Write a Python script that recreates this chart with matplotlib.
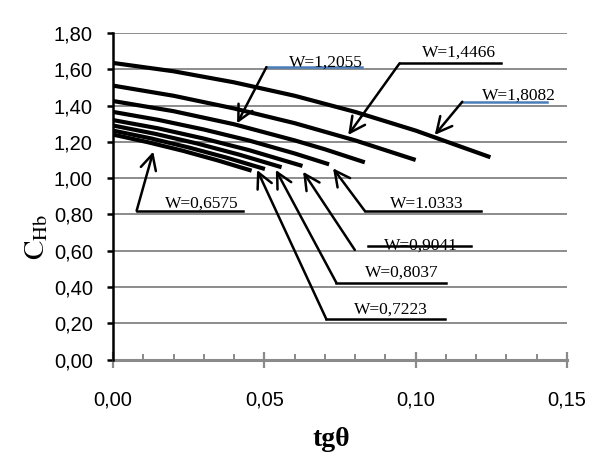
import matplotlib
matplotlib.use("Agg")
import matplotlib.pyplot as plt
from matplotlib.ticker import MultipleLocator, FuncFormatter

# ── data: C_Hb vs tg(theta) for several W ──
W_LABELS = ["W=0,6575", "W=0,7223", "W=0,8037", "W=0,9041",
            "W=1.0333", "W=1,2055", "W=1,4466", "W=1,8082"]

X_0657 = [0.0, 0.0115, 0.023, 0.0345, 0.0458]
Y_0657 = [1.240, 1.198, 1.151, 1.098, 1.041]
X_0722 = [0.0, 0.0125, 0.025, 0.0375, 0.0502]
Y_0722 = [1.262, 1.219, 1.169, 1.113, 1.050]
X_0804 = [0.0, 0.014, 0.028, 0.042, 0.0557]
Y_0804 = [1.290, 1.244, 1.190, 1.128, 1.060]
X_0904 = [0.0, 0.015, 0.030, 0.045, 0.0626]
Y_0904 = [1.320, 1.274, 1.218, 1.154, 1.067]
X_1033 = [0.0, 0.015, 0.030, 0.045, 0.060, 0.0714]
Y_1033 = [1.365, 1.321, 1.268, 1.207, 1.136, 1.076]
X_1206 = [0.0, 0.020, 0.040, 0.060, 0.070, 0.0832]
Y_1206 = [1.425, 1.369, 1.297, 1.208, 1.159, 1.087]
X_1447 = [0.0, 0.020, 0.040, 0.060, 0.080, 0.100]
Y_1447 = [1.510, 1.454, 1.384, 1.303, 1.208, 1.100]
X_1808 = [0.0, 0.020, 0.040, 0.060, 0.080, 0.100, 0.1247]
Y_1808 = [1.635, 1.589, 1.528, 1.454, 1.365, 1.262, 1.115]

CURVES = [(X_0657, Y_0657), (X_0722, Y_0722), (X_0804, Y_0804), (X_0904, Y_0904),
          (X_1033, Y_1033), (X_1206, Y_1206), (X_1447, Y_1447), (X_1808, Y_1808)]

# label placement: text centre x, text baseline y, underline y, underline x0/x1,
# arrow tip (x, y), underline colour, arrow start (x, y)
BLUE = "#4a7ebb"
ANNOT = {
    "W=1,2055": (0.0703, 1.617, 1.612, 0.0507, 0.0822, (0.0410, 1.302), BLUE, 0.0507, 1.612),
    "W=1,4466": (0.1142, 1.668, 1.633, 0.0947, 0.1283, (0.0777, 1.238), "black", 0.0947, 1.633),
    "W=1,8082": (0.1340, 1.430, 1.421, 0.1154, 0.1433, (0.1063, 1.238), BLUE, 0.1154, 1.421),
    "W=1.0333": (0.1038, 0.836, 0.819, 0.0832, 0.1217, (0.0727, 1.054), "black", 0.0832, 0.819),
    "W=0,9041": (0.1016, 0.604, 0.626, 0.0843, 0.1184, (0.0628, 1.035), "black", 0.0799, 0.604),
    "W=0,8037": (0.0953, 0.456, 0.423, 0.0738, 0.1101, (0.0538, 1.045), "black", 0.0738, 0.423),
    "W=0,7223": (0.0917, 0.255, 0.222, 0.0705, 0.1096, (0.0476, 1.045), "black", 0.0705, 0.222),
    "W=0,6575": (0.0295, 0.835, 0.820, 0.0078, 0.0430, (0.0133, 1.146), "black", 0.0078, 0.820),
}

plt.rcParams["mathtext.fontset"] = "stix"

fig = plt.figure(figsize=(5.98, 4.74), dpi=100)
ax = fig.add_axes([113 / 598, 1 - 359.5 / 474, 454 / 598, 326.5 / 474])

for (xs, ys) in CURVES:
    ax.plot(xs, ys, color="black", lw=3.0, solid_capstyle="butt",
            solid_joinstyle="round", zorder=3)

for lab in W_LABELS:
    tx, ty, uy, ux0, ux1, tip, ucol, sx, sy = ANNOT[lab]
    ax.plot([ux0, ux1], [uy, uy], color=ucol, lw=1.8, zorder=4)
    ax.annotate("", xy=tip, xytext=(sx, sy),
                arrowprops=dict(arrowstyle="->,head_length=0.55,head_width=0.28",
                                lw=1.8, color="black", shrinkA=0, shrinkB=0,
                                mutation_scale=20), zorder=4)
    ax.text(tx, ty, lab, ha="center", va="baseline", fontsize=12.5,
            family="Liberation Serif", zorder=5)

ax.set_xlim(0, 0.15)
ax.set_ylim(0, 1.8)
ax.yaxis.set_major_locator(MultipleLocator(0.2))
ax.xaxis.set_major_locator(MultipleLocator(0.05))
ax.xaxis.set_minor_locator(MultipleLocator(0.01))
ax.yaxis.set_major_formatter(FuncFormatter(lambda v, p: f"{v:.2f}".replace(".", ",")))
ax.xaxis.set_major_formatter(FuncFormatter(lambda v, p: f"{v:.2f}".replace(".", ",")))

ax.grid(axis="y", color="#8c8c8c", lw=1.4, zorder=0)
ax.set_axisbelow(True)
for s in ["top", "right"]:
    ax.spines[s].set_visible(False)
ax.spines["left"].set_color("black")
ax.spines["left"].set_linewidth(1.8)
ax.spines["bottom"].set_color("#8a8a8a")
ax.spines["bottom"].set_linewidth(2.2)
ax.spines["left"].set_zorder(6)

ax.tick_params(axis="y", direction="out", length=4.5, width=1.8, color="black",
               pad=10, labelsize=14.5)
ax.tick_params(axis="x", which="major", direction="inout", length=11, width=1.6,
               color="#8a8a8a", pad=17, labelsize=14.5)
ax.tick_params(axis="x", which="minor", direction="in", length=4.5, width=1.4,
               color="#8a8a8a")
for t in ax.get_xticklabels() + ax.get_yticklabels():
    t.set_family("Liberation Sans")

fig.text(331 / 598, 1 - 440 / 474, "tgθ", ha="center", va="center",
         fontsize=20, family="Liberation Serif", fontweight="bold")
fig.text(36 / 598, 1 - 237 / 474, r"$\mathrm{C}_{\mathrm{Hb}}$", ha="center",
         va="center", rotation=90, fontsize=21)

fig.savefig("out.png", dpi=100)
